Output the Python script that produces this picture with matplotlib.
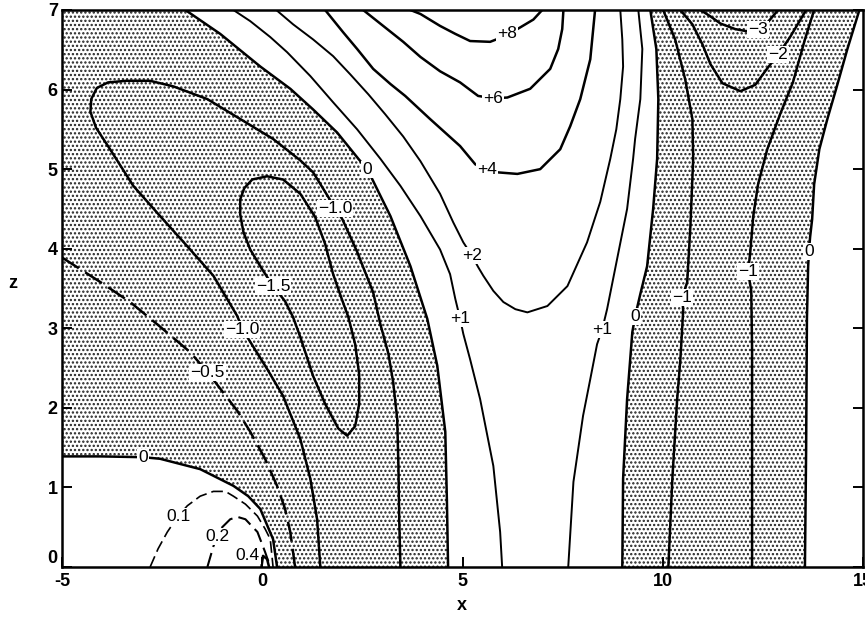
import numpy as np
import matplotlib
matplotlib.use("Agg")
import matplotlib.pyplot as plt
from matplotlib import font_manager
from matplotlib.patches import Polygon

# ---------------------------------------------------------------- axes
X_RANGE = (-5, 15)
Z_RANGE = (0, 7)
X_TICKS = [-5, 0, 5, 10, 15]
Z_TICKS = [0, 1, 2, 3, 4, 5, 6, 7]

# ---------------------------------------------------------------- contour lines (x, z)
# zero line closing the positive cell near the origin
C_ZERO_LOW = [(-5.0, 1.39), (-4.04, 1.39), (-2.97, 1.38), (-2.55, 1.36), (-1.55, 1.23),
              (-0.72, 1.02), (-0.35, 0.89), (-0.05, 0.73), (0.27, 0.35), (0.37, 0.0)]
C_P01 = [(-2.80, 0.0), (-2.60, 0.23), (-2.37, 0.44), (-2.10, 0.64), (-1.87, 0.77),
         (-1.55, 0.89), (-1.22, 0.95), (-0.92, 0.95), (-0.72, 0.89), (-0.42, 0.79),
         (-0.12, 0.64), (0.07, 0.48), (0.20, 0.35), (0.27, 0.0)]
C_P02 = [(-1.37, 0.0), (-1.22, 0.26), (-1.12, 0.38), (-1.00, 0.50), (-0.80, 0.60),
         (-0.62, 0.63), (-0.42, 0.60), (-0.12, 0.44), (0.07, 0.19), (0.20, 0.0)]
C_P04 = [(-0.02, 0.0), (0.02, 0.14), (0.12, 0.10), (0.17, 0.0)]
C_M05 = [(-5.0, 3.89), (-4.04, 3.58), (-3.30, 3.33), (-2.55, 3.02), (-1.80, 2.70),
         (-1.37, 2.45), (-1.00, 2.21), (-0.62, 1.96), (-0.30, 1.70), (0.07, 1.36),
         (0.37, 1.02), (0.57, 0.73), (0.70, 0.44), (0.82, 0.0)]
C_M10 = [(1.45, 0.0), (1.37, 0.60), (1.20, 1.11), (0.95, 1.61), (0.52, 2.15),
         (0.12, 2.49), (-0.30, 2.83), (-0.50, 2.99), (-0.62, 3.15), (-1.22, 3.66),
         (-1.87, 4.03), (-2.55, 4.41), (-3.22, 4.79), (-3.80, 5.25), (-4.15, 5.52),
         (-4.29, 5.72), (-4.27, 5.88), (-4.13, 6.02), (-3.85, 6.09), (-3.40, 6.11),
         (-2.80, 6.11), (-2.22, 6.04), (-1.37, 5.88), (-0.55, 5.63), (0.27, 5.38),
         (0.95, 5.11), (1.27, 4.96), (1.82, 4.51), (2.00, 4.37), (2.37, 3.96),
         (2.77, 3.45), (2.95, 3.05), (3.15, 2.68), (3.27, 2.32), (3.37, 1.86),
         (3.40, 1.27), (3.42, 0.60), (3.45, 0.0)]
C_M15 = [(0.27, 3.53), (0.0, 3.74), (-0.30, 3.99), (-0.47, 4.21), (-0.55, 4.43),
         (-0.55, 4.62), (-0.45, 4.76), (-0.25, 4.87), (0.12, 4.91), (0.52, 4.87),
         (0.95, 4.69), (1.32, 4.40), (1.57, 4.06), (1.77, 3.68), (1.97, 3.39),
         (2.15, 3.14), (2.32, 2.80), (2.42, 2.42), (2.42, 2.05), (2.32, 1.77),
         (2.12, 1.65), (1.90, 1.74), (1.57, 2.05), (1.27, 2.40), (0.95, 2.89),
         (0.77, 3.14), (0.57, 3.34), (0.27, 3.53)]
C_ZERO_UP = [(-1.92, 7.0), (-1.05, 6.70), (-0.05, 6.29), (0.70, 6.01), (1.27, 5.75),
             (1.87, 5.46), (2.40, 5.13), (2.62, 5.00), (2.75, 4.87), (3.20, 4.41),
             (3.70, 3.78), (4.12, 3.12), (4.37, 2.53), (4.57, 1.70), (4.61, 0.85),
             (4.64, 0.0)]
C_P1_L = [(-0.72, 7.0), (-0.30, 6.86), (0.20, 6.66), (0.62, 6.47), (1.20, 6.17),
          (1.77, 5.84), (2.37, 5.50), (2.95, 5.13), (3.45, 4.79), (3.95, 4.41),
          (4.44, 3.99), (4.69, 3.68), (4.82, 3.37), (4.94, 3.12), (5.02, 2.93),
          (5.19, 2.61), (5.44, 2.11), (5.77, 1.27), (5.94, 0.44), (5.99, 0.0)]
C_P2 = [(0.35, 7.0), (0.77, 6.82), (1.27, 6.63), (1.77, 6.42), (2.20, 6.19),
        (2.65, 5.94), (3.07, 5.69), (3.52, 5.41), (3.95, 5.10), (4.44, 4.69),
        (4.77, 4.33), (5.02, 4.08), (5.24, 3.91), (5.39, 3.77), (5.52, 3.66),
        (5.77, 3.47), (6.02, 3.33), (6.32, 3.24), (6.62, 3.20), (7.12, 3.28),
        (7.62, 3.53), (8.11, 4.08), (8.44, 4.59), (8.69, 5.13), (8.84, 5.50),
        (8.94, 5.88), (9.01, 6.29), (8.99, 6.63), (8.94, 7.0)]
C_P4 = [(1.57, 7.0), (2.02, 6.72), (2.37, 6.51), (2.77, 6.26), (3.20, 6.07),
        (3.57, 5.92), (4.19, 5.63), (4.94, 5.29), (5.32, 5.06), (5.62, 5.00),
        (5.87, 4.96), (6.37, 4.94), (6.94, 5.00), (7.44, 5.25), (7.69, 5.54),
        (7.94, 5.88), (8.19, 6.38), (8.31, 7.0)]
C_P6 = [(2.52, 7.0), (3.02, 6.80), (3.52, 6.60), (3.95, 6.41), (4.44, 6.23),
        (4.94, 6.09), (5.39, 5.92), (5.77, 5.89), (6.12, 5.90), (6.69, 6.01),
        (7.19, 6.26), (7.39, 6.51), (7.49, 6.76), (7.52, 7.0)]
C_P8 = [(3.70, 7.0), (3.95, 6.95), (4.44, 6.80), (4.82, 6.70), (5.19, 6.61),
        (5.69, 6.60), (6.10, 6.68), (6.37, 6.76), (6.77, 6.88), (6.99, 7.0)]
C_P1_R = [(9.39, 7.0), (9.49, 6.51), (9.44, 5.88), (9.31, 5.38), (9.26, 5.13),
          (9.11, 4.50), (8.86, 3.87), (8.61, 3.24), (8.49, 2.99), (8.36, 2.80),
          (8.19, 2.36), (8.01, 1.90), (7.77, 1.07), (7.64, 0.0)]
C_ZERO_L = [(9.69, 7.0), (9.84, 6.51), (9.89, 5.88), (9.86, 5.13), (9.76, 4.50),
            (9.61, 3.78), (9.44, 3.43), (9.31, 3.15), (9.24, 2.95), (9.11, 2.11),
            (9.01, 1.11), (8.99, 0.0)]
C_M1_L = [(10.01, 7.0), (10.31, 6.63), (10.56, 6.13), (10.74, 5.63), (10.76, 5.13),
          (10.69, 4.28), (10.61, 3.58), (10.49, 3.39), (10.51, 3.22), (10.44, 2.61),
          (10.36, 2.11), (10.24, 1.11), (10.14, 0.0)]
C_M2 = [(10.44, 7.0), (10.74, 6.82), (10.99, 6.57), (11.19, 6.32), (11.49, 6.08),
        (11.94, 5.98), (12.31, 6.06), (12.63, 6.28), (12.88, 6.44), (13.18, 6.66),
        (13.58, 7.0)]
C_M3 = [(10.94, 7.0), (11.19, 6.92), (11.44, 6.83), (11.81, 6.76), (12.13, 6.73),
        (12.38, 6.76), (12.63, 6.85), (12.88, 7.0)]
C_M1_R = [(13.78, 7.0), (13.55, 6.63), (13.25, 6.09), (12.93, 5.69), (12.61, 5.25),
          (12.38, 4.81), (12.26, 4.41), (12.18, 3.93), (12.13, 3.71), (12.21, 3.47),
          (12.23, 2.74), (12.23, 1.48), (12.23, 0.0)]
C_ZERO_R = [(14.91, 7.0), (14.61, 6.51), (14.33, 6.01), (14.11, 5.63), (13.91, 5.25),
            (13.78, 4.81), (13.73, 4.37), (13.68, 4.15), (13.65, 3.97), (13.63, 3.77),
            (13.60, 3.12), (13.58, 1.48), (13.55, 0.0)]

# contour labels: text, x, z
LABELS = [
    ("+8", 6.12, 6.70), ("+6", 5.77, 5.89), ("+4", 5.62, 5.00), ("+2", 5.24, 3.91),
    ("+1", 4.94, 3.12), ("+1", 8.49, 2.99), ("0", 2.62, 5.00), ("0", 9.31, 3.15),
    ("0", 13.65, 3.97), ("\u22121.0", 1.82, 4.51), ("\u22121.0", -0.50, 2.99),
    ("\u22121.5", 0.27, 3.53), ("\u22120.5", -1.37, 2.45), ("0", -2.97, 1.38),
    ("0.1", -2.10, 0.64), ("0.2", -1.12, 0.38), ("0.4", -0.37, 0.14),
    ("\u22121", 10.49, 3.39), ("\u22121", 12.13, 3.71), ("\u22122", 12.88, 6.44),
    ("\u22123", 12.38, 6.76),
]

# ---------------------------------------------------------------- fonts
available = {f.name for f in font_manager.fontManager.ttflist}
narrow = next((n for n in ["Liberation Sans Narrow", "DejaVu Sans Condensed",
                            "Liberation Sans"] if n in available), "DejaVu Sans")
plt.rcParams["font.family"] = [narrow, "DejaVu Sans"]
plt.rcParams["hatch.linewidth"] = 1.1

fig = plt.figure(figsize=(8.65, 6.21), dpi=100)
ax = fig.add_axes([62 / 865, 54 / 621, 801 / 865, 557 / 621])
ax.set_xlim(*X_RANGE)
ax.set_ylim(*Z_RANGE)


def xy(pts):
    a = np.asarray(pts, dtype=float)
    return a[:, 0], a[:, 1]


# stippled regions where the field is negative
x0, x1 = X_RANGE
z0, z1 = Z_RANGE
left_region = ([(x0, z1)] + C_ZERO_LOW + C_ZERO_UP[::-1])
right_region = C_ZERO_L + C_ZERO_R[::-1]
for verts in (left_region, right_region):
    ax.add_patch(Polygon(verts, closed=True, facecolor="white", edgecolor="#222222",
                         linewidth=0, hatch="....", zorder=1))

solid_thick = [C_ZERO_LOW, C_M10, C_M15, C_ZERO_UP, C_P4, C_P6, C_P8,
               C_ZERO_L, C_M1_L, C_M2, C_M3, C_M1_R, C_ZERO_R, C_P04]
solid_thin = [C_P1_L, C_P2, C_P1_R]
for c in solid_thick:
    ax.plot(*xy(c), color="black", lw=1.8, zorder=3, solid_joinstyle="round")
for c in solid_thin:
    ax.plot(*xy(c), color="black", lw=1.4, zorder=3, solid_joinstyle="round")
ax.plot(*xy(C_M05), color="black", lw=1.8, ls=(0, (8, 3)), zorder=3)
ax.plot(*xy(C_P01), color="black", lw=1.2, ls=(0, (7, 3)), zorder=3)
ax.plot(*xy(C_P02), color="black", lw=1.5, ls=(0, (7, 3)), zorder=3)

for text, lx, lz in LABELS:
    ax.text(lx, lz, text, ha="center", va="center", fontsize=12.5, zorder=5,
            bbox=dict(boxstyle="square,pad=0.06", fc="white", ec="none"))

# frame and ticks
for s in ax.spines.values():
    s.set_linewidth(1.8)
ax.set_xticks(X_TICKS)
ax.set_yticks(Z_TICKS)
ax.set_xticklabels([str(v) for v in X_TICKS])
ax.set_yticklabels([str(v) for v in Z_TICKS])
ax.tick_params(direction="in", length=7, width=1.4, labelsize=13,
               left=True, right=True, bottom=True, top=False)
ax.tick_params(axis="x", pad=4)
ax.tick_params(axis="y", pad=3)
for lab in ax.get_xticklabels() + ax.get_yticklabels():
    lab.set_fontweight("bold")
# lift the lowest z label clear of the x labels
ax.get_yticklabels()[0].set_verticalalignment("bottom")

fig.text(462 / 865, 1 - 606 / 621, "x", ha="center", va="center",
         fontsize=13, fontweight="bold")
fig.text(13 / 865, 1 - 283 / 621, "z", ha="center", va="center",
         fontsize=13, fontweight="bold")

fig.savefig("out.png", dpi=100)
